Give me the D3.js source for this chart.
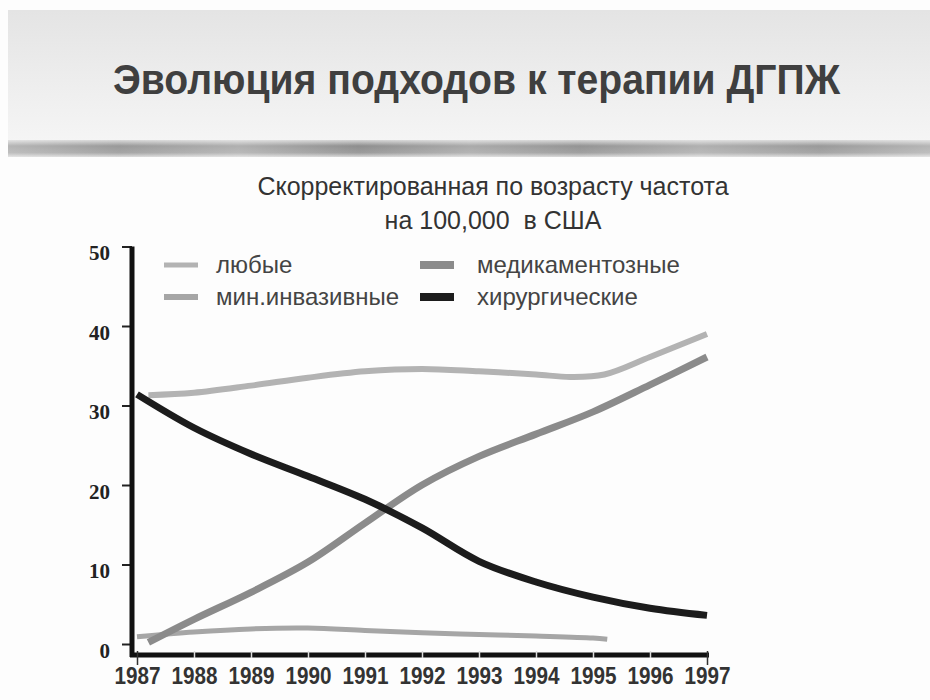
<!DOCTYPE html>
<html>
<head>
<meta charset="utf-8">
<script src="https://cdn.jsdelivr.net/npm/d3@7"></script>
<style>
  body { margin: 0; background: #fff; }
  svg { display: block; }
</style>
</head>
<body>
<svg id="chart" width="930" height="700"></svg>
<script>
// data
const years = [1987, 1988, 1989, 1990, 1991, 1992, 1993, 1994, 1995, 1996, 1997];
const yTicks = [0, 10, 20, 30, 40, 50];

const anyYears = [1987.2, 1988, 1989, 1990, 1991, 1992, 1993, 1994, 1994.6, 1995.2, 1996, 1997];
const anyValues = [31.3, 31.6, 32.5, 33.5, 34.3, 34.6, 34.3, 33.9, 33.6, 33.9, 36.1, 39.0];

const minInvYears = [1987, 1988, 1989, 1990, 1991, 1992, 1993, 1994, 1995, 1995.25];
const minInvValues = [0.9, 1.5, 1.9, 2.0, 1.7, 1.4, 1.2, 1.0, 0.75, 0.6];

const medYears = [1987.2, 1988, 1989, 1990, 1991, 1992, 1993, 1994, 1995, 1996, 1997];
const medValues = [0.2, 3.1, 6.5, 10.3, 15.2, 20.0, 23.6, 26.4, 29.2, 32.6, 36.1];

const surgYears = [1987, 1988, 1989, 1990, 1991, 1992, 1993, 1994, 1995, 1996, 1997];
const surgValues = [31.4, 27.2, 23.9, 21.1, 18.2, 14.6, 10.4, 7.8, 5.9, 4.5, 3.6];

const seriesNames = ["любые", "мин.инвазивные", "медикаментозные", "хирургические"];

const title = "Эволюция подходов к терапии ДГПЖ";
const subtitle1 = "Скорректированная по возрасту частота";
const subtitle2 = "на 100,000  в США";

// styles
const lineStyle = [
  { color: "#b3b3b3", width: 6, swatch: 5 },
  { color: "#a6a6a6", width: 5, swatch: 6 },
  { color: "#8b8b8b", width: 7, swatch: 8 },
  { color: "#1c1c1c", width: 7, swatch: 8 }
];

const svg = d3.select("#chart");
const defs = svg.append("defs");

// header background
const hg = defs.append("linearGradient").attr("id", "hdr").attr("x1", 0).attr("y1", 0).attr("x2", 0).attr("y2", 1);
hg.append("stop").attr("offset", "0%").attr("stop-color", "#e4e4e4");
hg.append("stop").attr("offset", "100%").attr("stop-color", "#f5f5f5");

const bg = defs.append("linearGradient").attr("id", "band").attr("x1", 0).attr("y1", 0).attr("x2", 0).attr("y2", 1);
bg.append("stop").attr("offset", "0%").attr("stop-color", "#d6d6d6");
bg.append("stop").attr("offset", "35%").attr("stop-color", "#8e8e8e");
bg.append("stop").attr("offset", "75%").attr("stop-color", "#9c9c9c");
bg.append("stop").attr("offset", "100%").attr("stop-color", "#d8d8d8");

const sg = defs.append("linearGradient").attr("id", "streak").attr("x1", 0).attr("y1", 0).attr("x2", 1).attr("y2", 0);
[[0, 0.35], [0.12, 0.1], [0.25, 0.3], [0.38, 0.0], [0.5, 0.25], [0.62, 0.05], [0.75, 0.3], [0.88, 0.1], [1, 0.35]]
  .forEach(s => sg.append("stop").attr("offset", s[0]).attr("stop-color", "#fff").attr("stop-opacity", s[1]));

svg.append("rect").attr("x", 0).attr("y", 0).attr("width", 930).attr("height", 700).attr("fill", "#fdfdfd");
svg.append("rect").attr("x", 8).attr("y", 10).attr("width", 922).attr("height", 132).attr("fill", "url(#hdr)");
svg.append("rect").attr("x", 8).attr("y", 140).attr("width", 922).attr("height", 17).attr("fill", "url(#band)");
svg.append("rect").attr("x", 8).attr("y", 140).attr("width", 922).attr("height", 17).attr("fill", "url(#streak)");

svg.append("text")
  .attr("x", 113).attr("y", 94)
  .attr("textLength", 727).attr("lengthAdjust", "spacingAndGlyphs")
  .style("font-family", "'Liberation Sans', Arial, sans-serif")
  .style("font-weight", "bold").style("font-size", "42px")
  .attr("fill", "#3f3f3f")
  .text(title);

svg.selectAll("text.sub")
  .data([subtitle1, subtitle2])
  .enter().append("text")
  .attr("class", "sub")
  .attr("x", 493).attr("y", (d, i) => 195 + i * 34)
  .attr("text-anchor", "middle")
  .style("white-space", "pre")
  .style("font-family", "'Liberation Sans', Arial, sans-serif")
  .style("font-size", "25px").attr("fill", "#333")
  .text(d => d);

// scales
const x = d3.scaleLinear().domain([1987, 1997]).range([137, 707]);
const y = d3.scaleLinear().domain([0, 40]).range([644, 326]);
const axisY = 655;

// y axis
const gy = svg.append("g").attr("transform", "translate(132,0)")
  .call(d3.axisLeft(y).tickValues(yTicks).tickSize(10).tickPadding(12));
gy.select(".domain").remove();
gy.selectAll(".tick line").attr("stroke", "#222").attr("stroke-width", 2);
gy.selectAll(".tick text")
  .attr("dy", "0.62em")
  .style("font-family", "'Liberation Serif', 'Times New Roman', serif")
  .style("font-weight", "bold").style("font-size", "21px").attr("fill", "#222");
svg.append("line")
  .attr("x1", 132).attr("x2", 132).attr("y1", y(50)).attr("y2", axisY + 2)
  .attr("stroke", "#111").attr("stroke-width", 5);

// x axis
const gx = svg.append("g").attr("transform", `translate(0,${axisY})`)
  .call(d3.axisBottom(x).tickValues(years).tickSize(0).tickPadding(13).tickFormat(d3.format("d")));
gx.select(".domain").remove();
gx.insert("line", ":first-child")
  .attr("x1", 130).attr("x2", 709).attr("y1", 0).attr("y2", 0)
  .attr("stroke", "#111").attr("stroke-width", 5);
gx.selectAll(".tick line")
  .attr("y1", -4).attr("y2", d => (d === 1987 || d === 1997) ? 10 : 3)
  .attr("stroke", d => (d === 1987 || d === 1997) ? "#333" : "#ddd")
  .attr("stroke-width", 1.5);
gx.selectAll(".tick text")
  .attr("textLength", 46).attr("lengthAdjust", "spacingAndGlyphs")
  .style("font-family", "'Liberation Sans', Arial, sans-serif")
  .style("font-weight", "bold").style("font-size", "23px")
  .attr("fill", "#333");

// lines
const series = [
  { xs: anyYears, ys: anyValues },
  { xs: minInvYears, ys: minInvValues },
  { xs: medYears, ys: medValues },
  { xs: surgYears, ys: surgValues }
];
const line = d3.line()
  .x(d => x(d[0]))
  .y(d => y(d[1]))
  .curve(d3.curveCatmullRom.alpha(0.5));

svg.append("g").selectAll("path")
  .data(series)
  .enter().append("path")
  .attr("d", s => line(d3.zip(s.xs, s.ys)))
  .attr("fill", "none")
  .attr("stroke", (s, i) => lineStyle[i].color)
  .attr("stroke-width", (s, i) => lineStyle[i].width);

// legend
const legend = svg.append("g");
const items = legend.selectAll("g")
  .data(seriesNames)
  .enter().append("g")
  .attr("transform", (d, i) => `translate(${i < 2 ? 164 : 420},${i % 2 === 0 ? 265 : 297})`);
items.append("line")
  .attr("x1", 0).attr("x2", 34).attr("y1", 0).attr("y2", 0)
  .attr("stroke", (d, i) => lineStyle[i].color)
  .attr("stroke-width", (d, i) => lineStyle[i].swatch);
items.append("text")
  .attr("x", (d, i) => i < 2 ? 52 : 57).attr("y", 8)
  .style("font-family", "'Liberation Sans', Arial, sans-serif")
  .style("font-size", "24px").attr("fill", "#444")
  .text(d => d);
</script>
</body>
</html>
